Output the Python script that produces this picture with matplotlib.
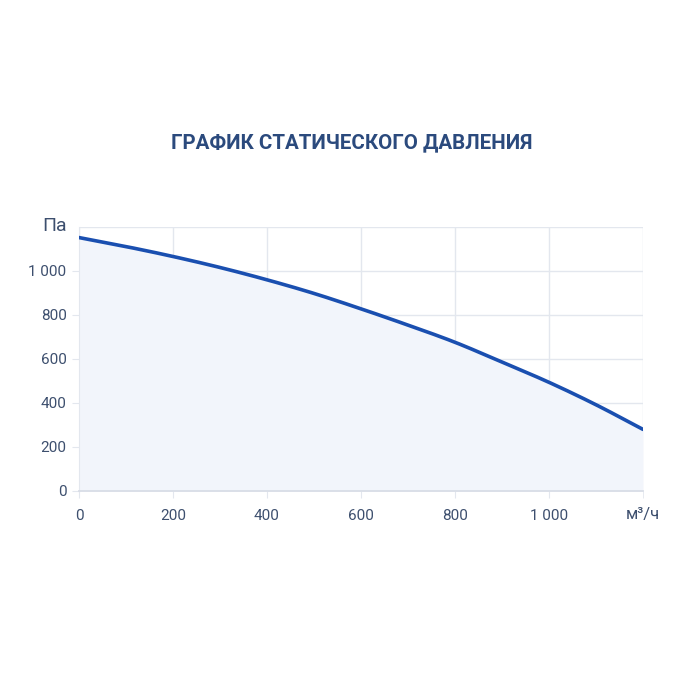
import matplotlib
matplotlib.use("Agg")
import matplotlib.pyplot as plt
import numpy as np
from matplotlib.ticker import FuncFormatter

plt.rcParams['font.family'] = ['Roboto', 'DejaVu Sans']

flow = [0, 100, 200, 300, 400, 500, 600, 700, 800, 900, 1000, 1100, 1200]
pressure = [1152, 1111, 1066, 1016, 960, 898, 828, 754, 676, 586, 494, 392, 280]
xticks = [0, 200, 400, 600, 800, 1000]
yticks = [0, 200, 400, 600, 800, 1000]
title = "ГРАФИК СТАТИЧЕСКОГО ДАВЛЕНИЯ"
ylabel = "Па"
xlabel = "м³/ч"


def smooth(xs, ys, n=20):
    """Catmull-Rom style cubic Hermite rendering through the data points."""
    xs = np.asarray(xs, float)
    ys = np.asarray(ys, float)
    m = np.gradient(ys, xs)
    out_x, out_y = [], []
    for i in range(len(xs) - 1):
        h = xs[i + 1] - xs[i]
        t = np.linspace(0, 1, n, endpoint=(i == len(xs) - 2))
        h00 = 2 * t**3 - 3 * t**2 + 1
        h10 = t**3 - 2 * t**2 + t
        h01 = -2 * t**3 + 3 * t**2
        h11 = t**3 - t**2
        out_x.append(xs[i] + t * h)
        out_y.append(h00 * ys[i] + h10 * h * m[i] + h01 * ys[i + 1] + h11 * h * m[i + 1])
    return np.concatenate(out_x), np.concatenate(out_y)


sx, sy = smooth(flow, pressure)

fig = plt.figure(figsize=(7, 7), dpi=100)
fig.patch.set_facecolor('white')
ax = fig.add_axes([79/700, 1-491/700, 564/700, 264/700])
ax.set_facecolor('white')

ax.fill_between(sx, sy, 0, color='#f2f5fb', zorder=1, lw=0)
ax.plot(sx, sy, color='#1a4fb0', lw=2.6, zorder=3, solid_capstyle='round')

ax.set_xlim(0, 1200)
ax.set_ylim(0, 1200)
ax.set_xticks(xticks)
ax.set_yticks(yticks)
fmt = FuncFormatter(lambda v, p: f"{int(v):,}".replace(",", " "))
ax.xaxis.set_major_formatter(fmt)
ax.yaxis.set_major_formatter(fmt)

ax.set_xticks([1200], minor=True)
ax.set_yticks([1200], minor=True)
ax.grid(True, which='both', color='#e3e7ee', lw=1, zorder=0)
ax.set_axisbelow(True)
for s in ['top', 'right']:
    ax.spines[s].set_visible(False)
ax.spines['left'].set_color('#e3e7ee')
ax.spines['bottom'].set_color('#d8dde6')
ax.spines['bottom'].set_linewidth(1.3)
ax.tick_params(axis='both', which='both', length=5, color='#e3e7ee', labelcolor='#3d4f6e', labelsize=11)
ax.tick_params(axis='y', which='minor', length=0)
ax.tick_params(axis='x', pad=8)
ax.tick_params(axis='y', pad=4)

fig.text(352/700, 1-143/700, title, ha='center', va='center', fontsize=14.8,
         fontweight='bold', color='#2b4a7d')
fig.text(55/700, 1-226/700, ylabel, ha='center', va='center', fontsize=14, color='#3d4f6e')
fig.text(643/700, 1-515/700, xlabel, ha='center', va='center', fontsize=12, color='#3d4f6e')

fig.savefig('out.png', dpi=100, facecolor='white')
